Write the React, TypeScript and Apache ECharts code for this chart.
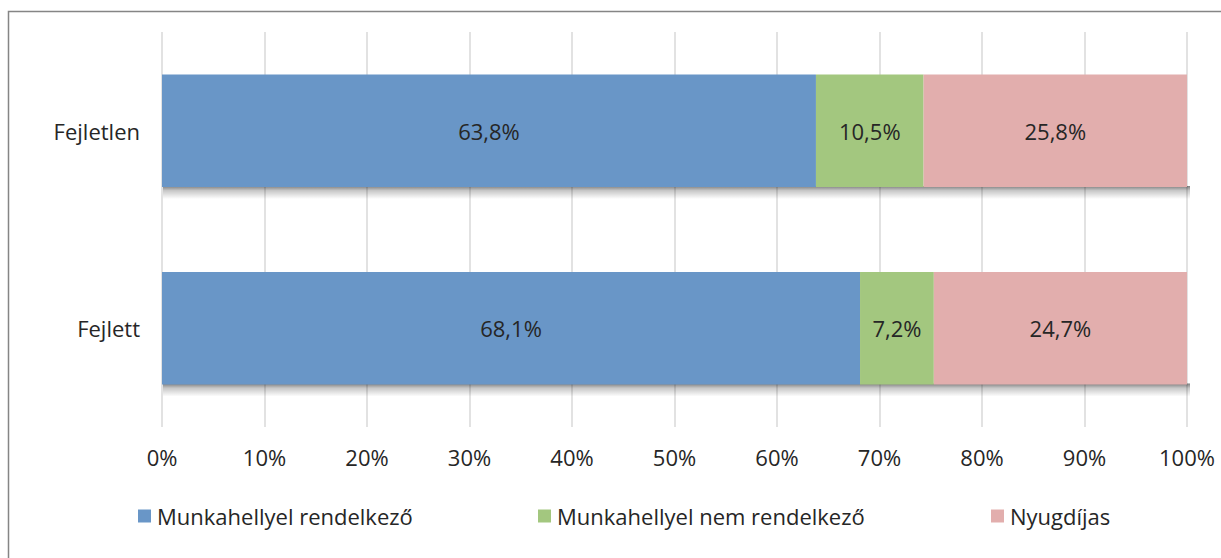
import React, { useEffect, useRef } from "react";
import * as echarts from "echarts";

const categories = ["Fejletlen", "Fejlett"];
const seriesNames = ["Munkahellyel rendelkező", "Munkahellyel nem rendelkező", "Nyugdíjas"];
const employed = [63.8, 68.1];
const unemployed = [10.5, 7.2];
const retired = [25.8, 24.7];
const xTicks = [0, 10, 20, 30, 40, 50, 60, 70, 80, 90, 100];

const colors = ["#6996C7", "#A3C77F", "#E2AEAD"];
const FONT = "'Open Sans', 'Noto Sans', sans-serif";
const TEXT = "#262626";

export default function App() {
  const ref = useRef<HTMLDivElement>(null);
  useEffect(() => {
    if (!ref.current) return;
    const chart = echarts.init(ref.current, undefined, { renderer: "svg" });
    const values = [employed, unemployed, retired];
    const legendLefts = [133, 533, 986];
    const totals = categories.map((_, i) => [
      Math.min(100, employed[i] + unemployed[i] + retired[i]),
      i,
    ]);
    const shadowSeries = {
      type: "custom",
      name: "shadow",
      silent: true,
      z: 1,
      data: totals,
      encode: { x: 0, y: 1 },
      renderItem: (params: any, api: any) => {
        const idx = api.value(1);
        const start = api.coord([0, idx]);
        const end = api.coord([api.value(0), idx]);
        const band = api.size([0, 1])[1];
        const bottom = start[1] + (band * 0.57) / 2;
        return {
          type: "rect",
          shape: { x: start[0] + 1, y: bottom - 1, width: end[0] - start[0] + 2, height: 13 },
          style: {
            fill: new echarts.graphic.LinearGradient(0, 0, 0, 1, [
              { offset: 0, color: "rgba(0,0,0,0.5)" },
              { offset: 0.35, color: "rgba(0,0,0,0.22)" },
              { offset: 1, color: "rgba(0,0,0,0)" },
            ]),
          },
        };
      },
    };
    chart.setOption({
      animation: false,
      backgroundColor: "#ffffff",
      textStyle: { fontFamily: FONT, color: TEXT },
      grid: { left: 162, right: 34, top: 32, bottom: 131, containLabel: false },
      xAxis: {
        type: "value",
        min: xTicks[0],
        max: xTicks[xTicks.length - 1],
        interval: 10,
        axisLine: { show: false },
        axisTick: { show: false },
        splitLine: { show: true, lineStyle: { color: "#D9D9D9", width: 1.5 } },
        axisLabel: {
          formatter: "{value}%",
          fontSize: 22,
          color: TEXT,
          fontFamily: FONT,
          margin: 19,
        },
      },
      yAxis: {
        type: "category",
        inverse: true,
        data: categories,
        axisLine: { show: false },
        axisTick: { show: false },
        axisLabel: { fontSize: 22, color: TEXT, fontFamily: FONT, margin: 22 },
      },
      legend: seriesNames.map((n, i) => ({
        data: [n],
        left: legendLefts[i],
        top: 500,
        icon: "rect",
        itemWidth: 13,
        itemHeight: 13,
        itemGap: 6,
        textStyle: { fontSize: 22, color: TEXT, fontFamily: FONT, padding: [0, 0, 0, 1] },
      })),
      graphic: [
        {
          type: "rect",
          shape: { x: 8.5, y: 11.5, width: 1260, height: 620 },
          style: { fill: "none", stroke: "#858585", lineWidth: 1.5 },
          silent: true,
          z: -10,
        },
      ],
      series: [
        shadowSeries,
        ...seriesNames.map((n, i) => ({
          name: n,
          type: "bar",
          stack: "total",
          barWidth: "57%",
          z: 2,
          data: values[i],
          itemStyle: { color: colors[i] },
          label: {
            show: true,
            position: "inside",
            fontSize: 22,
            color: TEXT,
            fontFamily: FONT,
            formatter: (p: any) => p.value.toFixed(1).replace(".", ",") + "%",
          },
        })),
      ],
    });
    return () => chart.dispose();
  }, []);
  return (
    <div
      ref={ref}
      style={{ position: "fixed", left: 0, top: 0, width: 1221, height: 558 }}
    />
  );
}
